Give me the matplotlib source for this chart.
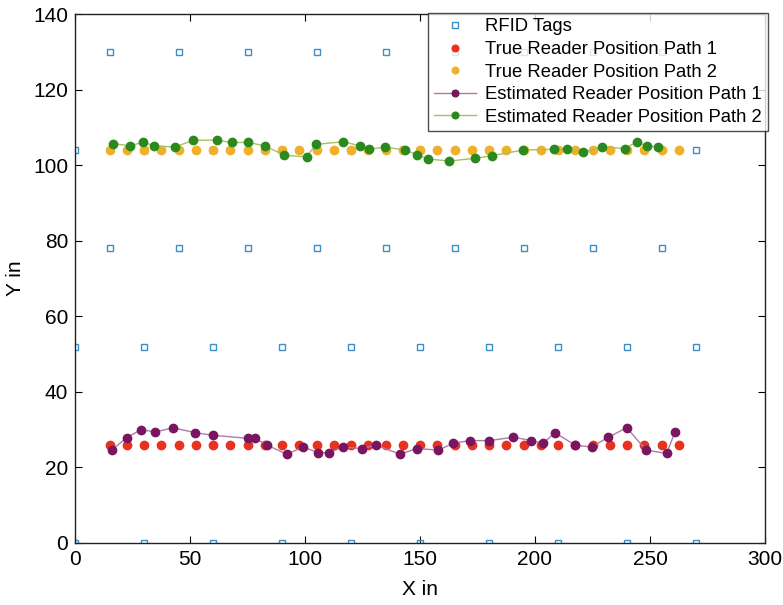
import matplotlib
matplotlib.use("Agg")
import matplotlib.pyplot as plt
import numpy as np

plt.rcParams['font.family'] = ['Liberation Sans', 'DejaVu Sans']

# RFID tag grid
tag_x_even = [0, 30, 60, 90, 120, 150, 180, 210, 240, 270]
tag_x_odd = [15, 45, 75, 105, 135, 165, 195, 225, 255]
tag_rows_even = [0, 52, 104]
tag_rows_odd = [78, 130]

# True reader positions
true_x = [15 + 7.5 * i for i in range(34)]
true_y1 = 26
true_y2 = 104

# Estimated path 1
est1_x = [16, 22.5, 28.7, 34.8, 42.7, 52.2, 59.9, 75.3, 78.3, 83.6, 92, 99.3, 105.8,
          110.6, 116.4, 124.6, 130.9, 141.3, 148.5, 158, 164.5, 171.7, 180.1, 190.6,
          198.3, 203.6, 208.7, 217.4, 224.6, 231.9, 239.9, 248.3, 257.2, 260.9]
est1_y = [24.6, 27.9, 30, 29.4, 30.5, 29.2, 28.5, 27.7, 27.7, 25.9, 23.5, 25.4, 23.9,
          23.9, 25.4, 25, 25.9, 23.5, 25, 24.6, 26.4, 27.1, 27.1, 28, 27.1, 26.4, 29.2,
          25.9, 25.4, 28, 30.5, 24.6, 23.7, 29.4]

# Estimated path 2
est2_x = [16.7, 23.9, 29.7, 34.5, 43.5, 51.4, 61.6, 68.1, 75.4, 82.6, 91, 100.7, 104.8,
          116.7, 123.9, 127.8, 134.8, 143.5, 148.6, 153.6, 162.7, 173.9, 181.2, 194.9,
          208.4, 213.8, 221, 229, 239.1, 244.2, 248.8, 253.6]
est2_y = [105.7, 105.1, 106.1, 105.1, 104.8, 106.6, 106.6, 106, 106, 105.1, 102.6, 102.2,
          105.5, 106.2, 105.1, 104.2, 104.8, 104, 102.8, 101.6, 101.1, 101.8, 102.5, 104,
          104.2, 104.2, 103.4, 104.8, 104.4, 106.1, 105.1, 104.8]

fig = plt.figure(figsize=(7.83, 6.05), dpi=100)
ax = fig.add_axes([75/783, 1-543/605, 690/783, 529/605])

tx, ty = [], []
for r in tag_rows_even:
    for x in tag_x_even:
        tx.append(x); ty.append(r)
for r in tag_rows_odd:
    for x in tag_x_odd:
        tx.append(x); ty.append(r)

ax.plot(tx, ty, linestyle='none', marker='s', markersize=5, markerfacecolor='none',
        markeredgecolor='#3a8fc4', markeredgewidth=1.0, label='RFID Tags', zorder=2)
ax.plot(true_x, [true_y1]*len(true_x), linestyle='none', marker='o', markersize=6,
        color='#e8321e', label='True Reader Position Path 1', zorder=3)
ax.plot(true_x, [true_y2]*len(true_x), linestyle='none', marker='o', markersize=6,
        color='#f0b02a', label='True Reader Position Path 2', zorder=3)
ax.plot(est1_x, est1_y, '-', color='#b07aa8', linewidth=1.0, marker='o', markersize=6,
        markerfacecolor='#7a1560', markeredgecolor='#7a1560',
        label='Estimated Reader Position Path 1', zorder=4)
ax.plot(est2_x, est2_y, '-', color='#a8c060', linewidth=1.0, marker='o', markersize=6,
        markerfacecolor='#2a8a1e', markeredgecolor='#2a8a1e',
        label='Estimated Reader Position Path 2', zorder=4)

ax.set_xlim(0, 300)
ax.set_ylim(0, 140)
ax.set_xticks([0, 50, 100, 150, 200, 250, 300])
ax.set_yticks([0, 20, 40, 60, 80, 100, 120, 140])
ax.tick_params(direction='in', top=True, right=True, labelsize=15, length=5, width=0.8, pad=5)
for s in ax.spines.values():
    s.set_linewidth(1.0)
    s.set_color('#222222')
ax.set_xlabel('X in', fontsize=15, labelpad=8)
ax.set_ylabel('Y in', fontsize=15, labelpad=6)

leg = ax.legend(loc='upper right', bbox_to_anchor=(1.004, 1.002), fontsize=13.3,
                frameon=True, fancybox=False, markerscale=0.8,
                edgecolor='#222222', borderpad=0.3, labelspacing=0.3,
                handlelength=2.3, handletextpad=0.5, borderaxespad=0.0)
leg.get_frame().set_linewidth(1.0)

fig.savefig('out.png', dpi=100)
